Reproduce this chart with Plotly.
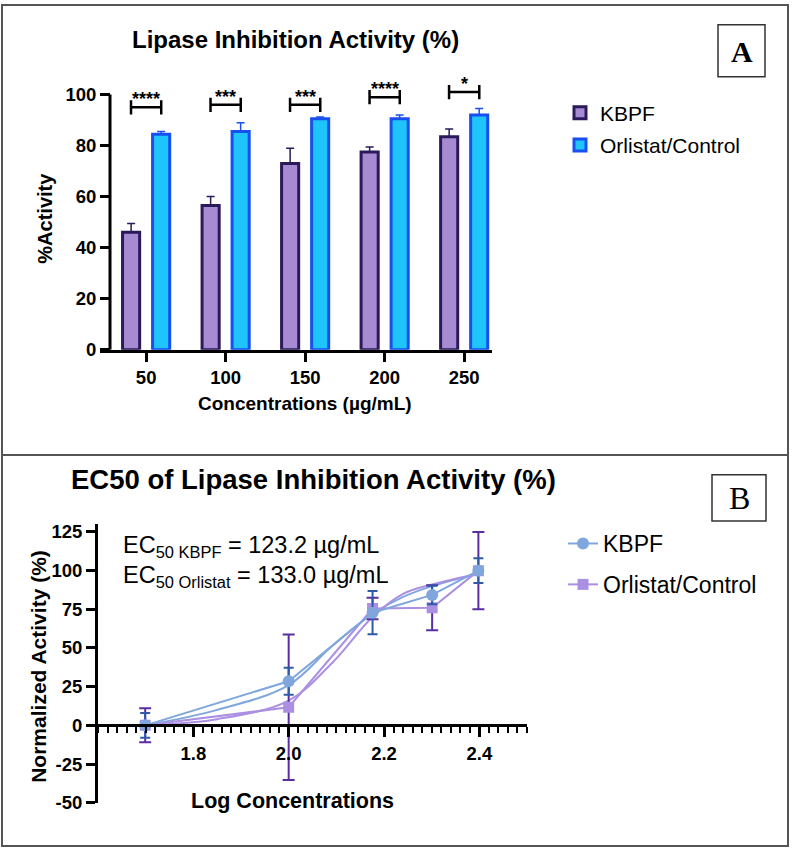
import plotly.graph_objects as go

# ---- data ----
conc_labels = ["50", "100", "150", "200", "250"]
conc_pos = [0, 1, 2, 3, 4]
kbpf_act = [46, 56.5, 73, 77.5, 83.5]
kbpf_err = [3.5, 3.5, 6, 2, 3]
orl_act = [84.5, 85.5, 90.5, 90.5, 92]
orl_err = [1, 3.5, 0.7, 1.5, 2.5]
sig_stars = ["****", "***", "***", "****", "*"]
sig_height = [95, 96, 96, 99, 101]

log_conc = [1.699, 2.0, 2.176, 2.301, 2.398]
kbpf_norm = [0, 28.5, 72.8, 84.3, 100]
kbpf_norm_err = [8, 8.8, 14, 6, 8]
orl_norm = [0, 11.7, 75.5, 76, 100]
orl_norm_err = [11, 47, 7, 14.5, 25]
fit_x = [1.699, 1.85, 2.0, 2.09, 2.176, 2.24, 2.301, 2.398]
kbpf_fit = [0, 10, 26, 51, 72, 83, 90, 98]
orl_fit = [0, 4, 16, 40, 70, 85, 91, 98]

b_yticks = [-50, -25, 0, 25, 50, 75, 100, 125]
b_xticks = [1.8, 2.0, 2.2, 2.4]

W, H = 792, 859
FONT = "Liberation Sans, Arial, sans-serif"
SERIF = "Liberation Serif, Times New Roman, serif"


def px(x):
    return x / W


def py(y):
    return 1 - y / H


# colours
KB_FILL, KB_LINE = "#a68bd3", "#2a1a5a"
OR_FILL, OR_LINE = "#1fc4fb", "#1750ef"
KB_B, KB_B_ERR = "#7fa7dd", "#2f5aa7"
OR_B, OR_B_ERR = "#ab8fe2", "#5a2ea2"

fig = go.Figure()

# ---- panel A: bars ----
fig.add_trace(go.Bar(
    x=conc_pos, y=kbpf_act, name="KBPF", legend="legend", legendgroup="a1",
    marker=dict(color=KB_FILL, line=dict(color=KB_LINE, width=3)),
    error_y=dict(type="data", symmetric=False, array=kbpf_err,
                 arrayminus=[0] * 5, color=KB_LINE, thickness=1.5, width=4),
    xaxis="x", yaxis="y",
))
fig.add_trace(go.Bar(
    x=conc_pos, y=orl_act, name="Orlistat/Control", legend="legend", legendgroup="a2",
    marker=dict(color=OR_FILL, line=dict(color=OR_LINE, width=3)),
    error_y=dict(type="data", symmetric=False, array=orl_err,
                 arrayminus=[0] * 5, color=OR_LINE, thickness=1.5, width=4),
    xaxis="x", yaxis="y",
))

# ---- panel B: points, connecting lines and fitted curves ----
fig.add_trace(go.Scatter(
    x=fit_x, y=kbpf_fit, mode="lines", line=dict(color=KB_B, width=2, shape="spline"),
    showlegend=False, xaxis="x2", yaxis="y2", hoverinfo="skip",
))
fig.add_trace(go.Scatter(
    x=fit_x, y=orl_fit, mode="lines", line=dict(color=OR_B, width=2, shape="spline"),
    showlegend=False, xaxis="x2", yaxis="y2", hoverinfo="skip",
))
fig.add_trace(go.Scatter(
    x=log_conc, y=orl_norm, mode="lines+markers", name="Orlistat/Control",
    legend="legend2", legendgroup="b2", legendrank=2,
    line=dict(color=OR_B, width=2),
    marker=dict(symbol="square", size=11, color=OR_B),
    error_y=dict(type="data", array=orl_norm_err, color=OR_B_ERR, thickness=2, width=6),
    xaxis="x2", yaxis="y2",
))
fig.add_trace(go.Scatter(
    x=log_conc, y=kbpf_norm, mode="lines+markers", name="KBPF",
    legend="legend2", legendgroup="b1", legendrank=1,
    line=dict(color=KB_B, width=2),
    marker=dict(symbol="circle", size=12, color=KB_B),
    error_y=dict(type="data", array=kbpf_norm_err, color=KB_B_ERR, thickness=2, width=5),
    xaxis="x2", yaxis="y2",
))

# geometry
a_y0_px, a_px_per_unit = 352, 2.59
a_range = [0, 110]
a_dom = [py(a_y0_px), py(a_y0_px - a_range[1] * a_px_per_unit)]
a_yaxis_x = px(110)

b_range = [-50, 130]
b_dom = [py(812), py(812 - (b_range[1] - b_range[0]) * 1.571)]
b_zero = b_dom[0] + (0 - b_range[0]) / (b_range[1] - b_range[0]) * (b_dom[1] - b_dom[0])

tick_font = dict(family=FONT, size=18.5, color="black", weight="bold")

fig.update_layout(
    width=W, height=H,
    margin=dict(l=0, r=0, t=0, b=0),
    paper_bgcolor="white", plot_bgcolor="white",
    font=dict(family=FONT, color="black"),
    barmode="group", bargap=0.245, bargroupgap=0.43,
    xaxis=dict(domain=[px(100), px(492)], range=[-0.58, 4.35], anchor="y",
               tickmode="array", tickvals=conc_pos, ticktext=conc_labels,
               showline=True, linecolor="black", linewidth=3,
               ticks="outside", ticklen=9, tickwidth=2.5, tickcolor="black",
               tickfont=tick_font, showgrid=False, zeroline=False),
    yaxis=dict(domain=a_dom, range=a_range, anchor="free", position=a_yaxis_x,
               tickmode="array", tickvals=[0, 20, 40, 60, 80, 100],
               showline=False, ticks="outside", ticklen=10, tickwidth=2.5, tickcolor="black",
               tickfont=tick_font, showgrid=False, zeroline=False),
    xaxis2=dict(domain=[px(98), px(527)], range=[1.6, 2.5], anchor="free", position=b_zero,
                tickmode="array", tickvals=b_xticks, ticktext=[f"{v:.1f}" for v in b_xticks],
                showline=True, linecolor="black", linewidth=3,
                ticks="outside", ticklen=10, tickwidth=3, tickcolor="black",
                minor=dict(tickmode="linear", tick0=1.6, dtick=0.02, ticks="outside",
                           ticklen=6, tickwidth=2, tickcolor="black"),
                tickfont=tick_font, showgrid=False, zeroline=False),
    yaxis2=dict(domain=b_dom, range=b_range, anchor="x2",
                tickmode="array", tickvals=b_yticks, ticktext=[str(v) for v in b_yticks],
                showline=True, linecolor="black", linewidth=3,
                ticks="outside", ticklen=9, tickwidth=3, tickcolor="black",
                tickfont=tick_font, showgrid=False, zeroline=False),
    legend=dict(x=px(560), y=py(91), xanchor="left", yanchor="top",
                font=dict(family=FONT, size=21, color="black"),
                bgcolor="rgba(0,0,0,0)", tracegroupgap=2, itemwidth=30),
    legend2=dict(x=px(563), y=py(527), xanchor="left", yanchor="top",
                 font=dict(family=FONT, size=23, color="black"),
                 bgcolor="rgba(0,0,0,0)", tracegroupgap=8, itemwidth=30),
)

shapes = []
# panel frames
shapes.append(dict(type="rect", xref="paper", yref="paper", x0=px(2), x1=px(788),
                   y0=py(856), y1=py(2), line=dict(color="#555", width=2)))
shapes.append(dict(type="line", xref="paper", yref="paper", x0=px(2), x1=px(788),
                   y0=py(459), y1=py(459), line=dict(color="#555", width=2)))
# panel label boxes
shapes.append(dict(type="rect", xref="paper", yref="paper", x0=px(718), x1=px(765),
                   y0=py(75), y1=py(22), line=dict(color="#333", width=1.5)))
shapes.append(dict(type="rect", xref="paper", yref="paper", x0=px(712), x1=px(766),
                   y0=py(526), y1=py(479), line=dict(color="#333", width=1.5)))
# panel A y-axis line (ends at 100)
shapes.append(dict(type="line", xref="paper", yref="y", x0=a_yaxis_x, x1=a_yaxis_x,
                   y0=0, y1=100, line=dict(color="black", width=3)))
# significance brackets
off = 0.19
for i, h in enumerate(sig_height):
    x0, x1 = conc_pos[i] - off, conc_pos[i] + off
    shapes.append(dict(type="line", xref="x", yref="y", x0=x0, x1=x1, y0=h, y1=h,
                       line=dict(color="black", width=2.5)))
    for xx in (x0, x1):
        shapes.append(dict(type="line", xref="x", yref="y", x0=xx, x1=xx,
                           y0=h - 2.8, y1=h + 2.8, line=dict(color="black", width=2.5)))
fig.update_layout(shapes=shapes)


def label(x, y, text, size, angle=0, family=FONT, bold=True):
    return dict(x=px(x), y=py(y), xref="paper", yref="paper", text=text,
                xanchor="center", yanchor="middle", showarrow=False, textangle=angle,
                font=dict(family=family, size=size, weight="bold" if bold else "normal"))


ann = []
for i, (h, s) in enumerate(zip(sig_height, sig_stars)):
    ann.append(dict(x=conc_pos[i], y=h, xref="x", yref="y", text=s, showarrow=False,
                    xanchor="center", yanchor="bottom", yshift=-4,
                    font=dict(family=FONT, size=18, weight="bold")))
ann += [
    label(295, 37, "Lipase Inhibition Activity (%)", 24),
    label(305, 407, "Concentrations (µg/mL)", 19),
    label(45, 219, "%Activity", 20, angle=-90),
    label(741.5, 49, "A", 30, family=SERIF),
    label(313, 484, "EC50 of Lipase Inhibition Activity (%)", 27.5),
    label(292, 810, "Log Concentrations", 21.5),
    label(39, 674, "Normalized Activity (%)", 21, angle=-90),
    label(739, 503, "B", 32, family=SERIF, bold=False),
]
for yy, txt in [(569, "EC<sub>50 KBPF</sub> = 123.2 µg/mL"),
                (599, "EC<sub>50 Orlistat</sub> = 133.0 µg/mL")]:
    ann.append(dict(x=px(121), y=py(yy), xref="paper", yref="paper", xanchor="left",
                    yanchor="bottom", text=txt, showarrow=False, font=dict(size=23.5)))
fig.update_layout(annotations=ann)

fig.write_html("out.html", config={"displayModeBar": False},
               post_script="document.body.style.margin='0';document.body.style.overflow='hidden';")
